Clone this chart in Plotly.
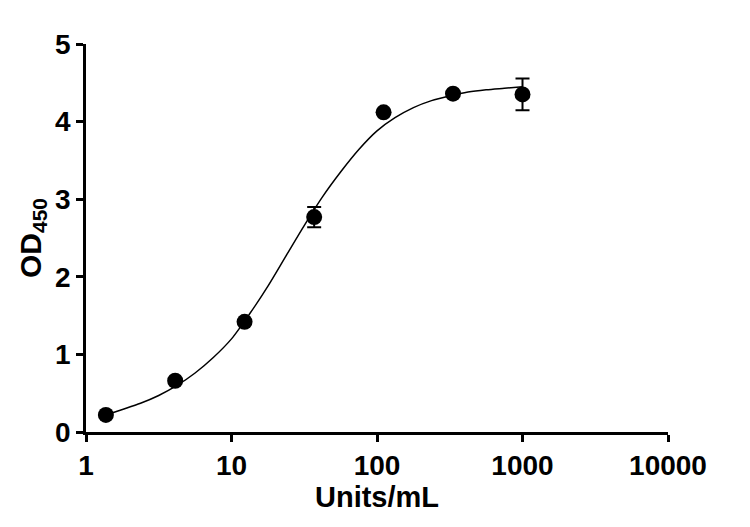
import plotly.graph_objects as go

# Measured data points
conc = [1.37, 4.1, 12.3, 37.0, 111.0, 333.0, 1000.0]
od450 = [0.22, 0.66, 1.42, 2.77, 4.12, 4.36, 4.35]
od_err = [0.0, 0.0, 0.0, 0.13, 0.0, 0.0, 0.205]

# Fitted curve
curve_x = [1.37, 1.78, 2.37, 3.16, 4.22, 5.62, 7.5, 10.0, 13.3, 17.8, 23.7,
           31.6, 42.2, 56.2, 75.0, 100.0, 133.0, 178.0, 237.0, 316.0, 422.0,
           562.0, 750.0, 1000.0]
curve_y = [0.22, 0.29, 0.37, 0.47, 0.60, 0.76, 0.96, 1.20, 1.52, 1.88, 2.27,
           2.66, 3.03, 3.35, 3.64, 3.88, 4.05, 4.18, 4.27, 4.33, 4.38,
           4.41, 4.43, 4.45]

x_ticks = [1, 10, 100, 1000, 10000]
x_tick_labels = ["1", "10", "100", "1000", "10000"]
y_ticks = [0, 1, 2, 3, 4, 5]

FONT = "Liberation Sans, Arial, sans-serif"

fig = go.Figure()
fig.add_trace(go.Scatter(
    x=curve_x, y=curve_y, mode="lines",
    line=dict(color="black", width=1.5, shape="spline", smoothing=0.8),
    showlegend=False, hoverinfo="skip",
))
fig.add_trace(go.Scatter(
    x=conc, y=od450, mode="markers",
    marker=dict(color="black", size=16),
    error_y=dict(type="data", array=od_err, visible=True,
                 color="black", thickness=2, width=7),
    showlegend=False,
))

fig.update_layout(
    width=750, height=527,
    margin=dict(l=78, r=90, t=36, b=103),
    paper_bgcolor="white", plot_bgcolor="white",
    font=dict(family=FONT, color="black"),
    xaxis=dict(
        type="log", range=[0, 4], automargin=False,
        tickvals=x_ticks, ticktext=x_tick_labels,
        showgrid=False, zeroline=False,
        showline=True, linecolor="black", linewidth=2.5,
        ticks="outside", ticklen=7, tickwidth=2.5, tickcolor="black",
        tickfont=dict(family=FONT, size=28, weight="bold"),
        title=dict(text="Units/mL", font=dict(family=FONT, size=29, weight="bold"),
                   standoff=6),
    ),
    yaxis=dict(
        range=[0, 5], automargin=False,
        tickvals=y_ticks,
        showgrid=False, zeroline=False,
        showline=True, linecolor="black", linewidth=2.5,
        ticks="outside", ticklen=7, tickwidth=2.5, tickcolor="black",
        tickfont=dict(family=FONT, size=28, weight="bold"),
        title=dict(text="OD<sub>450</sub>", font=dict(family=FONT, size=30, weight="bold"),
                   standoff=5),
    ),
)

fig.write_html("out.html")
